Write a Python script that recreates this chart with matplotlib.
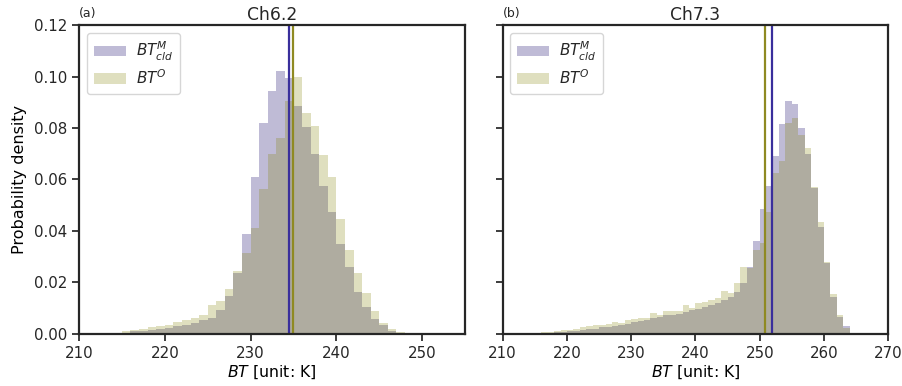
import numpy as np
from matplotlib import pyplot as plt

# histogram bin edges (1 K bins)
edges_a = np.arange(214, 250)
edges_b = np.arange(214, 265)

# Ch6.2 probability density per bin (left edge = edges_a[:-1])
mod_a = [0.0003, 0.0005, 0.0010, 0.0013, 0.0017, 0.0020, 0.0023, 0.0030, 0.0035, 0.0042,
         0.0053, 0.0063, 0.0093, 0.0147, 0.0236, 0.0388, 0.0609, 0.0819, 0.0944, 0.1021,
         0.0995, 0.0885, 0.0805, 0.0699, 0.0575, 0.0473, 0.0349, 0.0259, 0.0162, 0.0103,
         0.0058, 0.0035, 0.0013, 0.0004, 0.0001]
obs_a = [0.0004, 0.0010, 0.0015, 0.0020, 0.0025, 0.0030, 0.0035, 0.0045, 0.0055, 0.0062,
         0.0073, 0.0112, 0.0127, 0.0174, 0.0244, 0.0314, 0.0411, 0.0563, 0.0699, 0.0761,
         0.0905, 0.0997, 0.0858, 0.0807, 0.0695, 0.0609, 0.0446, 0.0325, 0.0236, 0.0158,
         0.0090, 0.0042, 0.0018, 0.0007, 0.0002]

# Ch7.3
mod_b = [0.0001, 0.0002, 0.0004, 0.0005, 0.0007, 0.0009, 0.0010, 0.0012, 0.0015, 0.0018,
         0.0020, 0.0025, 0.0028, 0.0032, 0.0035, 0.0040, 0.0045, 0.0050, 0.0055, 0.0060,
         0.0064, 0.0073, 0.0075, 0.0077, 0.0084, 0.0092, 0.0096, 0.0104, 0.0112, 0.0119,
         0.0131, 0.0143, 0.0162, 0.0198, 0.0260, 0.0362, 0.0485, 0.0574, 0.0691, 0.0815,
         0.0905, 0.0894, 0.0800, 0.0699, 0.0568, 0.0415, 0.0276, 0.0143, 0.0065, 0.0031]
obs_b = [0.0002, 0.0004, 0.0008, 0.0009, 0.0012, 0.0015, 0.0016, 0.0020, 0.0025, 0.0030,
         0.0033, 0.0036, 0.0037, 0.0045, 0.0042, 0.0055, 0.0058, 0.0060, 0.0063, 0.0080,
         0.0075, 0.0088, 0.0088, 0.0090, 0.0112, 0.0100, 0.0119, 0.0123, 0.0131, 0.0138,
         0.0166, 0.0160, 0.0197, 0.0259, 0.0257, 0.0325, 0.0353, 0.0473, 0.0625, 0.0671,
         0.0819, 0.0839, 0.0773, 0.0722, 0.0570, 0.0434, 0.0279, 0.0154, 0.0073, 0.0023]

# mean values (vertical lines)
mean_mod = [234.5, 251.85]
mean_obs = [234.95, 250.8]

titles = ['Ch6.2', 'Ch7.3']
tags = ['(a)', '(b)']
xlims = [(210, 255), (210, 270)]

plt.rcParams['font.family'] = 'DejaVu Sans'
plt.rcParams['axes.edgecolor'] = '#262626'
plt.rcParams['xtick.color'] = '#262626'
plt.rcParams['ytick.color'] = '#262626'
plt.rcParams['text.color'] = '#262626'

fig = plt.figure(figsize=(9.02, 3.86), dpi=100)
ax1 = fig.add_axes([0.0876, 0.135, 0.428, 0.8])
ax2 = fig.add_axes([0.5573, 0.135, 0.4275, 0.8], sharey=ax1)

c_mod = 'darkslateblue'
c_obs = 'olive'

data = [(edges_a, mod_a, obs_a), (edges_b, mod_b, obs_b)]
for i, ax in enumerate([ax1, ax2]):
    edges, mod, obs = data[i]
    ax.bar(edges[:-1], mod, width=1, align='edge', color=c_mod, alpha=0.35,
           linewidth=0, label=r'$BT^{M}_{cld}$')
    ax.bar(edges[:-1], obs, width=1, align='edge', color=c_obs, alpha=0.25,
           linewidth=0, label=r'$BT^{O}$')
    ax.axvline(mean_mod[i], color='#3a2f9c', lw=1.6)
    ax.axvline(mean_obs[i], color='#8f8a22', lw=1.6)
    ax.set_xlim(*xlims[i])
    ax.set_ylim(0, 0.12)
    ax.set_title(titles[i], fontsize=12.3, pad=4)
    ax.text(0.0, 1.015, tags[i], transform=ax.transAxes, fontsize=9, ha='left', va='bottom')
    ax.set_xlabel('$BT$ [unit: K]', fontsize=11.3, labelpad=2)
    for s in ax.spines.values():
        s.set_linewidth(1.6)
    ax.tick_params(axis='both', which='major', labelsize=10.8, length=5,
                   width=1.25, direction='out', pad=3.5)
    leg = ax.legend(loc='upper left', fontsize=11, handlelength=2.1, handleheight=0.65,
                    borderpad=0.45, labelspacing=0.35, handletextpad=0.65, fancybox=True,
                    framealpha=0.8, borderaxespad=0.5)
    leg.get_frame().set_edgecolor('0.8')

ax1.set_yticks([0, 0.02, 0.04, 0.06, 0.08, 0.10, 0.12])
ax1.set_yticklabels(['0.00', '0.02', '0.04', '0.06', '0.08', '0.10', '0.12'])
ax1.set_ylabel('Probability density', fontsize=11.5, labelpad=5)
plt.setp(ax2.get_yticklabels(), visible=False)
ax1.set_xticks([210, 220, 230, 240, 250])
ax2.set_xticks([210, 220, 230, 240, 250, 260, 270])

fig.savefig('out.png', dpi=100)
